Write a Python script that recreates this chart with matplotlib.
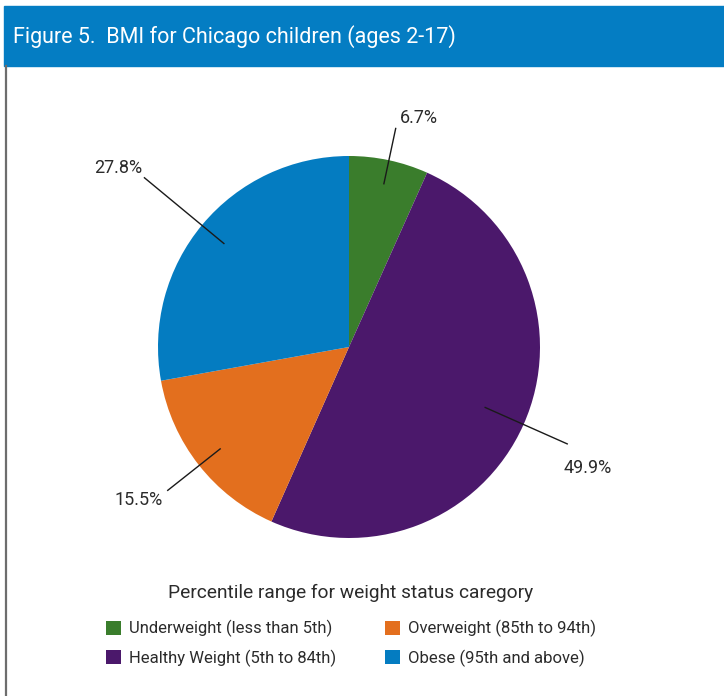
import numpy as np
import matplotlib
matplotlib.use("Agg")
import matplotlib.pyplot as plt
from matplotlib.patches import Rectangle
from matplotlib.lines import Line2D

plt.rcParams['font.family'] = ['Roboto', 'DejaVu Sans']

# data, clockwise from 12 o'clock
categories = ["Underweight (less than 5th)", "Healthy Weight (5th to 84th)",
              "Overweight (85th to 94th)", "Obese (95th and above)"]
shares = [6.7, 49.9, 15.5, 27.8]
colors = ["#3a7d2c", "#4b186b", "#e36f1e", "#047cc1"]

title = "Figure 5.  BMI for Chicago children (ages 2-17)"
legend_title = "Percentile range for weight status caregory"

W, H = 724, 696
fig = plt.figure(figsize=(W / 100, H / 100), dpi=100)
txt_col = "#2b2b2b"

# blue header band + left frame line
fig.patches.append(Rectangle((4 / W, 1 - 66 / H), 1 - 4 / W, 60 / H,
                             transform=fig.transFigure, color="#047dc3", zorder=0))
fig.lines.append(Line2D([5.5 / W, 5.5 / W], [0, 1 - 66 / H], transform=fig.transFigure,
                        color="#6d6d6d", lw=1.6))
fig.text(13 / W, 1 - 37 / H, title, color="white", fontsize=15.5, va="center", ha="left")

# pie axes placed at the pie's pixel box
cx, cy, r = 349, 347, 191
ax = fig.add_axes([(cx - r) / W, (H - cy - r) / H, 2 * r / W, 2 * r / H])
wedges, _ = ax.pie(shares, colors=colors, startangle=90, counterclock=False,
                   radius=1, wedgeprops=dict(linewidth=0))
ax.set_xlim(-1, 1)
ax.set_ylim(-1, 1)
ax.set_aspect("equal")
ax.axis("off")

# leader lines + labels
r_in = [0.874, 0.78, 0.86, 0.85]
r_out = [1.17, 1.25, 1.21, 1.39]
txt_off = [(0.122, 0.057), (0.108, -0.125), (-0.155, -0.049), (-0.14, 0.052)]
cum = 0
for i, s in enumerate(shares):
    mid = np.deg2rad(90 - (cum + s / 2) * 3.6)
    cum += s
    x0, y0 = r_in[i] * np.cos(mid), r_in[i] * np.sin(mid)
    x1, y1 = r_out[i] * np.cos(mid), r_out[i] * np.sin(mid)
    ax.plot([x0, x1], [y0, y1], color="#1a1a1a", lw=1.0, clip_on=False)
    ax.text(x1 + txt_off[i][0], y1 + txt_off[i][1], f"{s}%", fontsize=13,
            color=txt_col, ha="center", va="center", clip_on=False)

leg = fig.legend(wedges, categories, ncol=2, loc="upper center",
                 bbox_to_anchor=(351 / W, 1 - 584 / H), frameon=False,
                 borderpad=0, borderaxespad=0,
                 title=legend_title, title_fontsize=13.75, fontsize=12,
                 handlelength=0.9, handleheight=0.9, handletextpad=0.48,
                 columnspacing=2.9, labelspacing=0.73, labelcolor=txt_col)
leg.get_title().set_color(txt_col)
leg._legend_box.sep = 13

fig.savefig("out.png", dpi=100)
